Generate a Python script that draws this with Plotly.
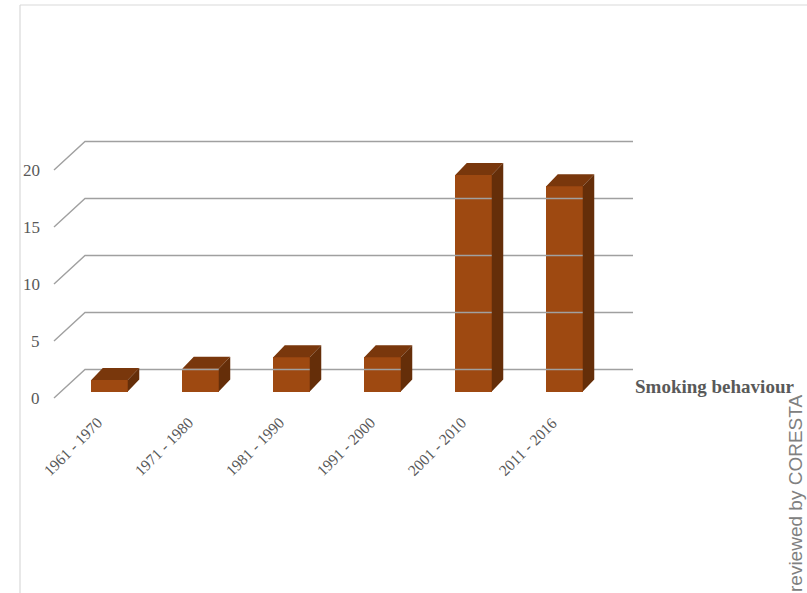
import plotly.graph_objects as go

# Publications per decade on smoking behaviour
periods = ["1961 - 1970", "1971 - 1980", "1981 - 1990", "1991 - 2000", "2001 - 2010", "2011 - 2016"]
counts = [1, 2, 3, 3, 19, 18]
grid_values = [0, 5, 10, 15, 20]
series_name = "Smoking behaviour"

# pixel geometry of the pseudo-3D frame
W, H = 807, 593
CAT_PX = 91.0          # pixels between category centres
CAT0_PX = 109.5        # x pixel of first category centre
UNIT_PX = 11.4         # pixels per unit of value
BASE_PX = 391.5        # y pixel of bar bases

def ux(px):
    return (px - CAT0_PX) / CAT_PX

def uy(py):
    return (BASE_PX - py) / UNIT_PX

BAR_W = 36.5 / CAT_PX
DEPTH_X = 11.5 / CAT_PX
DEPTH_Y = 12.0 / UNIT_PX

FRONT = "rgb(158,73,17)"
TOP = "rgb(121,55,12)"
SIDE = "rgb(101,46,9)"
GRID = "#A0A0A0"
TXT = "#595959"

fig = go.Figure()

# back wall gridlines with their slanted side-wall segments
gx, gy = [], []
for g in grid_values:
    gx += [ux(54), ux(85), ux(633), None]
    gy += [g + uy(398), g + uy(369.5), g + uy(369.5), None]
fig.add_trace(go.Scatter(x=gx, y=gy, mode="lines", line=dict(color=GRID, width=1.4),
                         hoverinfo="skip", showlegend=False))

# front faces
xs = list(range(len(periods)))
fig.add_trace(go.Bar(x=xs, y=counts, width=BAR_W, marker=dict(color=FRONT, line=dict(width=0)),
                     name=series_name, showlegend=False))

# top and side faces
tx, ty, sx, sy = [], [], [], []
for i, v in zip(xs, counts):
    l, r = i - BAR_W / 2, i + BAR_W / 2
    tx += [l, r, r + DEPTH_X, l + DEPTH_X, l, None]
    ty += [v, v, v + DEPTH_Y, v + DEPTH_Y, v, None]
    sx += [r, r + DEPTH_X, r + DEPTH_X, r, r, None]
    sy += [0, DEPTH_Y, v + DEPTH_Y, v, 0, None]
fig.add_trace(go.Scatter(x=tx, y=ty, fill="toself", fillcolor=TOP, mode="lines",
                         line=dict(width=0, color=TOP), hoverinfo="skip", showlegend=False))
fig.add_trace(go.Scatter(x=sx, y=sy, fill="toself", fillcolor=SIDE, mode="lines",
                         line=dict(width=0, color=SIDE), hoverinfo="skip", showlegend=False))

annotations = []
# value axis labels
for g in grid_values:
    annotations.append(dict(x=ux(42), y=g + uy(398), text=str(g), showarrow=False,
                            xanchor="right", yanchor="middle",
                            font=dict(family="Liberation Serif", size=17, color=TXT)))
# category labels
for i, p in zip(xs, periods):
    annotations.append(dict(x=i - 0.405, y=uy(446), text=p, showarrow=False, textangle=-45,
                            xanchor="center", yanchor="middle",
                            font=dict(family="Liberation Serif", size=15.5, color=TXT)))
# series (depth) axis label
annotations.append(dict(x=ux(633), y=uy(386), text="<b>" + series_name + "</b>", showarrow=False,
                        xanchor="left", yanchor="middle",
                        font=dict(family="Liberation Serif", size=19, color=TXT)))
# side note
annotations.append(dict(x=795 / W, y=1 - 494 / H, xref="paper", yref="paper",
                        text="reviewed by CORESTA", showarrow=False, textangle=-90,
                        xanchor="center", yanchor="middle",
                        font=dict(family="Liberation Sans", size=19, color="#808080")))

shapes = [
    dict(type="line", xref="paper", yref="paper", x0=20 / W, x1=1, y0=1 - 5 / H, y1=1 - 5 / H,
         line=dict(color="#D9D9D9", width=1.2)),
    dict(type="line", xref="paper", yref="paper", x0=20 / W, x1=20 / W, y0=0, y1=1 - 5 / H,
         line=dict(color="#D9D9D9", width=1.2)),
]

fig.update_layout(
    width=W, height=H, margin=dict(l=0, r=0, t=0, b=0),
    paper_bgcolor="white", plot_bgcolor="white",
    xaxis=dict(range=[ux(0), ux(W)], visible=False, fixedrange=True),
    yaxis=dict(range=[uy(H), uy(0)], visible=False, fixedrange=True),
    annotations=annotations, shapes=shapes, bargap=0,
)

fig.write_html("out.html")
